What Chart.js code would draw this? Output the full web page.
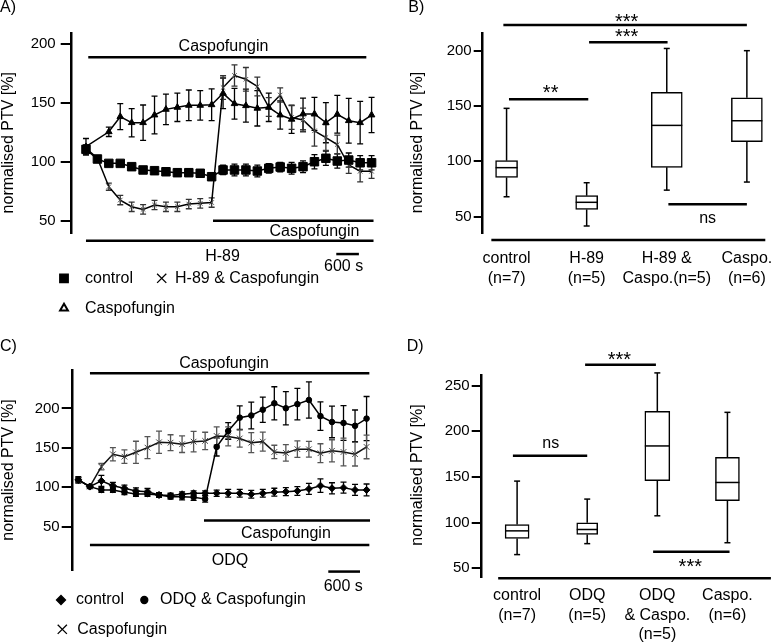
<!DOCTYPE html>
<html lang="en">
<head>
<meta charset="UTF-8">
<title>Normalised PTV - H-89 / ODQ and Caspofungin</title>
<script src="https://cdn.jsdelivr.net/npm/chart.js"></script>
<style>
    body { margin: 0; background: #fff; }
    #wrap { position: relative; width: 771px; height: 643px; }
    canvas { position: absolute; }
</style>
</head>
<body>
<div id="wrap">
    <canvas id="chartA" width="390" height="320" style="left:0;top:0"></canvas>
    <canvas id="chartB" width="381" height="320" style="left:390px;top:0"></canvas>
    <canvas id="chartC" width="390" height="323" style="left:0;top:320px"></canvas>
    <canvas id="chartD" width="381" height="323" style="left:390px;top:320px"></canvas>
</div>
<script>
    const FONT = "'Liberation Sans', Arial, sans-serif";

    // sample number (one point every 300 s)
    const samples = [0, 1, 2, 3, 4, 5, 6, 7, 8, 9, 10, 11, 12, 13, 14, 15, 16, 17, 18, 19, 20, 21, 22, 23, 24, 25];

    // ---- A) H-89 time course ----
    const controlA    = [110.4, 102.2, 98.5, 98.5, 95.7, 92.9, 92.3, 91.4, 90.6, 90.6, 90.1, 87.2, 92.9, 92.9, 92.9, 92.0, 94.3, 95.4, 94.3, 95.7, 99.9, 102.8, 100.5, 101.3, 99.0, 99.0];
    const controlErrA = [4, 2.5, 2.5, 2.5, 2.5, 2.5, 2.5, 2.5, 3, 3, 3, 3, 4, 5, 5, 5, 4, 4, 5, 5, 6, 6, 6, 6, 6, 6];
    const caspoA      = [112.6, null, 125.3, 138.1, 133.0, 133.0, 139.5, 144.3, 146.0, 147.7, 147.7, 148.2, 157.9, 149.1, 147.4, 145.2, 146.0, 139.5, 135.9, 140.4, 140.4, 133.0, 140.1, 134.7, 133.0, 139.5];
    const caspoErrA   = [7, 0, 4, 11, 12, 15, 16, 13, 12, 13, 12.5, 13.5, 13, 13, 14, 15, 12, 12, 12, 13.5, 14, 17, 16, 19, 18, 15];
    const h89CaspoA   = [111.3, 102.8, 78.7, 67.4, 61.7, 59.5, 63.2, 61.7, 61.7, 64.0, 64.6, 65.3, 162.8, 173.0, 169.8, 163.7, 146.3, 156.5, 137.4, 135.3, 126.1, 120.4, 114.5, 97.1, 91.8, 91.8];
    const h89CaspoErrA = [3, 2, 3, 4, 4, 4, 4, 4, 4, 4, 4, 4, 10, 9, 10, 8, 8, 6, 10, 10, 13, 11, 8, 7, 9, 6];
    const yTicksA = [50, 100, 150, 200];

    // ---- B) H-89 box plots ----
    const catsB = [['control', '(n=7)'], ['H-89', '(n=5)'], ['H-89 &', 'Caspo.(n=5)'], ['Caspo.', '(n=6)']];
    const minB = [68, 41.6, 74, 81.3];
    const q1B  = [85.5, 56.6, 94.6, 117.8];
    const medB = [94.3, 63, 132.5, 136.7];
    const q3B  = [100.6, 69, 162.3, 157.5];
    const maxB = [147.9, 80.7, 202, 200];
    const yTicksB = [50, 100, 150, 200];

    // ---- C) ODQ time course ----
    const controlC     = [109.4, 100.9, 108.1, 102.1, 98.8, 95.4, 94.5, 90.3, 89.5, 91.2, 92.5, 92.5, 92.5, 92.5, 92.5, 91.2, 92.5, 93.8, 94.5, 95.4, 98.0, 102.1, 98.8, 99.6, 96.7, 96.7];
    const controlErrC  = [4, 2, 7, 4, 4, 4, 4, 3, 3, 3, 3, 3, 4, 5, 5, 5, 5, 5, 5, 5.5, 7, 8.5, 7, 7, 7, 7.5];
    const odqCaspoC    = [109.4, 100.9, 96.7, 96.7, 93.8, 91.6, 91.6, 90.3, 88.2, 88.2, 87.4, 85.3, 151.2, 171.4, 188.3, 191.1, 198.4, 206.5, 200.2, 205.4, 210.7, 190.2, 182.8, 181.6, 178.0, 187.1];
    const odqCaspoErrC = [3, 2, 3, 3, 3, 3, 3, 3, 3, 4, 4, 4, 11.5, 10.5, 15, 17, 16, 21, 21, 20, 23, 18, 20, 22, 20, 28];
    const caspoC       = [109.4, 100.9, 126.2, 141.9, 138.9, 144.4, 150.3, 157.1, 156.6, 154.6, 157.9, 158.8, 165.1, 164.5, 161.9, 156.6, 157.9, 144.8, 143.6, 148.4, 148.2, 143.2, 146.3, 144.8, 142.0, 151.2];
    const caspoErrC    = [3, 2, 4, 8.5, 8.5, 14, 14, 14, 10, 10.5, 13, 11, 11.5, 12, 11, 12.7, 12, 8.5, 10.5, 10.5, 10, 12, 14, 17.5, 15, 15];
    const yTicksC = [50, 100, 150, 200];

    // ---- D) ODQ box plots ----
    const catsD = [['control', '(n=7)'], ['ODQ', '(n=5)'], ['ODQ', '& Caspo.', '(n=5)'], ['Caspo.', '(n=6)']];
    const minD = [65, 77, 107.5, 78];
    const q1D  = [82.7, 87, 146, 124];
    const medD = [91, 92.5, 184, 144];
    const q3D  = [98, 99.8, 222, 171.5];
    const maxD = [145.5, 125.8, 264, 220.8];
    const yTicksD = [50, 100, 150, 200, 250];

    // box widths in px (style only)
    const boxWidthB = [22, 22, 31, 31];
    const boxWidthD = [24, 21, 25, 24];

    function text(ctx, s, px, py, size, align) {
        ctx.font = size + 'px ' + FONT;
        ctx.textAlign = align || 'center';
        ctx.textBaseline = 'middle';
        // asterisks sit high in the em box, push them down a bit
        if (s[0] === '*') py += size * 0.23;
        ctx.fillText(s, px, py);
    }

    function yAxis(min, max, ticks, width, tickLen, pad) {
        return {
            type: 'linear', min: min, max: max,
            afterBuildTicks: s => { s.ticks = ticks.map(v => ({ value: v })); },
            afterFit: s => { s.width = width; },
            ticks: { color: '#000', font: { family: FONT, size: 15 }, padding: pad },
            grid: { drawOnChartArea: false, drawTicks: true, tickLength: tickLen, color: '#000', lineWidth: 2 },
            border: { display: true, color: '#000', width: 2.5 }
        };
    }

    function lineSet(ys, errs, style) {
        return Object.assign({
            data: samples.map((x, i) => ({ x: x, y: ys[i] })),
            errors: errs,
            borderColor: '#000', borderWidth: 1.5, tension: 0, spanGaps: true,
            pointBackgroundColor: '#000', pointBorderColor: '#000', pointBorderWidth: 1
        }, style);
    }

    // error bars under the points
    const errorBars = {
        id: 'errorBars',
        beforeDatasetsDraw(chart) {
            const ctx = chart.ctx, y = chart.scales.y;
            chart.data.datasets.forEach((ds, i) => {
                if (!ds.errors) return;
                const meta = chart.getDatasetMeta(i);
                ctx.save();
                ctx.strokeStyle = ds.errorColor || '#000';
                ctx.lineWidth = 1.3;
                meta.data.forEach((pt, j) => {
                    const v = ds.data[j].y, e = ds.errors[j];
                    if (v == null || !e) return;
                    const top = y.getPixelForValue(v + e), bot = y.getPixelForValue(v - e);
                    ctx.beginPath();
                    ctx.moveTo(pt.x, top); ctx.lineTo(pt.x, bot);
                    ctx.moveTo(pt.x - 3, top); ctx.lineTo(pt.x + 3, top);
                    ctx.moveTo(pt.x - 3, bot); ctx.lineTo(pt.x + 3, bot);
                    ctx.stroke();
                });
                ctx.restore();
            });
        }
    };

    // whiskers, caps and medians for the box plots
    function whiskers(mins, q1s, meds, q3s, maxs, widths) {
        return {
            id: 'whiskers',
            afterDatasetsDraw(chart) {
                const { ctx, scales: { x, y } } = chart;
                const seg = (x0, y0, x1, y1) => { ctx.beginPath(); ctx.moveTo(x0, y0); ctx.lineTo(x1, y1); ctx.stroke(); };
                ctx.save();
                ctx.strokeStyle = '#000';
                ctx.lineWidth = 1.5;
                meds.forEach((m, i) => {
                    const cx = x.getPixelForValue(i), hw = widths[i] / 2;
                    const pMax = y.getPixelForValue(maxs[i]), pMin = y.getPixelForValue(mins[i]);
                    seg(cx, y.getPixelForValue(q3s[i]), cx, pMax);
                    seg(cx, y.getPixelForValue(q1s[i]), cx, pMin);
                    seg(cx - 3, pMax, cx + 3, pMax);
                    seg(cx - 3, pMin, cx + 3, pMin);
                    seg(cx - hw, y.getPixelForValue(m), cx + hw, y.getPixelForValue(m));
                });
                ctx.restore();
            }
        };
    }

    // panel letter, axis title, treatment bars, brackets, legend, category labels
    function decor(cfg) {
        return {
            id: 'decor',
            afterDraw(chart) {
                const { ctx, scales: { x, y } } = chart;
                ctx.save();
                ctx.fillStyle = '#000';
                ctx.strokeStyle = '#000';
                text(ctx, cfg.tag[0], cfg.tag[1], cfg.tag[2], 16, 'left');

                ctx.save();
                ctx.translate(cfg.yTitle[1], cfg.yTitle[2]);
                ctx.rotate(-Math.PI / 2);
                text(ctx, cfg.yTitle[0], 0, 0, 16);
                ctx.restore();

                (cfg.bars || []).forEach(b => {
                    const py = y.getPixelForValue(b.y);
                    ctx.lineWidth = 2.5;
                    ctx.beginPath();
                    ctx.moveTo(x.getPixelForValue(b.x0), py);
                    ctx.lineTo(x.getPixelForValue(b.x1), py);
                    ctx.stroke();
                    if (b.text) text(ctx, b.text, x.getPixelForValue(b.tx), y.getPixelForValue(b.ty), b.size || 16);
                });

                (cfg.legend || []).forEach(l => {
                    ctx.fillStyle = l.fill || '#000';
                    ctx.strokeStyle = '#000';
                    ctx.lineWidth = l.lw || 1.3;
                    Chart.helpers.drawPoint(ctx, { pointStyle: l.style, radius: l.r, rotation: 0, borderWidth: l.lw || 1.3 }, l.x, l.y);
                    ctx.fillStyle = '#000';
                    text(ctx, l.label, l.lx, l.y, 16, 'left');
                });

                if (cfg.cats) {
                    cfg.cats.labels.forEach((lines, i) => {
                        lines.forEach((s, k) => text(ctx, s, x.getPixelForValue(i), cfg.cats.y + k * cfg.cats.step, 16));
                    });
                }
                ctx.restore();
            }
        };
    }

    const baseOptions = {
        responsive: false, animation: false, events: [],
        plugins: { legend: { display: false }, tooltip: { enabled: false } }
    };

    // ---------- A ----------
    new Chart(document.getElementById('chartA'), {
        type: 'line',
        data: {
            datasets: [
                lineSet(controlA, controlErrA, { pointStyle: 'rect', pointRadius: 6 }),
                lineSet(caspoA, caspoErrA, { pointStyle: 'triangle', pointRadius: 3.8 }),
                lineSet(h89CaspoA, h89CaspoErrA, { pointStyle: 'crossRot', pointRadius: 3.2, pointBorderColor: '#555', errorColor: '#333' })
            ]
        },
        options: Object.assign({}, baseOptions, {
            layout: { padding: { top: 33.3, bottom: 86.7, left: 0, right: 6.6 } },
            scales: {
                x: { type: 'linear', display: false, min: -1.25, max: 26 },
                y: yAxis(39.2, 208.8, yTicksA, 71.7, 11, 5)
            }
        }),
        plugins: [errorBars, decor({
            tag: ['A)', 0, 7.5],
            yTitle: ['normalised PTV [%]', 9, 142.7],
            bars: [
                { x0: 0.2, x1: 24.54, y: 188.4, text: 'Caspofungin', tx: 12.04, ty: 197.4 },
                { x0: 11.12, x1: 25.17, y: 49.9, text: 'Caspofungin', tx: 20.0, ty: 40.5 },
                { x0: 0, x1: 25.17, y: 32.9, text: 'H-89', tx: 11.95, ty: 19.3 },
                { x0: 21.91, x1: 23.89, y: 21.6, text: '600 s', tx: 22.55, ty: 10.8 }
            ],
            legend: [
                { style: 'rect', r: 6, x: 64, y: 278.3, label: 'control', lx: 85 },
                { style: 'crossRot', r: 6.5, x: 161.7, y: 278.3, label: 'H-89 & Caspofungin', lx: 175 },
                { style: 'triangle', r: 4.5, fill: '#fff', lw: 2, x: 64, y: 308.3, label: 'Caspofungin', lx: 85 }
            ]
        })]
    });

    // ---------- B ----------
    new Chart(document.getElementById('chartB'), {
        type: 'bar',
        data: {
            datasets: catsB.map((c, i) => ({
                data: [{ x: i, y: [q1B[i], q3B[i]] }],
                backgroundColor: '#fff', borderColor: '#000', borderWidth: 1.5, borderSkipped: false,
                barThickness: boxWidthB[i], grouped: false
            }))
        },
        options: Object.assign({}, baseOptions, {
            layout: { padding: { top: 33.3, bottom: 86.7, left: 0, right: 4.1 } },
            scales: {
                x: { type: 'linear', display: false, offset: false, min: -0.298, max: 3.25 },
                y: yAxis(35, 215.7, yTicksB, 92.7, 9, 2)
            }
        }),
        plugins: [whiskers(minB, q1B, medB, q3B, maxB, boxWidthB), decor({
            tag: ['B)', 18.3, 7.5],
            yTitle: ['normalised PTV [%]', 27.5, 142.5],
            bars: [
                { x0: -0.19, x1: 3.23, y: 28.95 },
                { x0: -0.04, x1: 3.0, y: 223.2, text: '***', tx: 1.5, ty: 229.3, size: 20 },
                { x0: 1.03, x1: 2.01, y: 207.6, text: '***', tx: 1.5, ty: 215.7, size: 20 },
                { x0: 0.03, x1: 1.02, y: 156.1, text: '**', tx: 0.55, ty: 165.1, size: 20 },
                { x0: 2.02, x1: 3.0, y: 61.2, text: 'ns', tx: 2.51, ty: 48.6 }
            ],
            cats: { labels: catsB, y: 258.3, step: 20 }
        })]
    });

    // ---------- C ----------
    new Chart(document.getElementById('chartC'), {
        type: 'line',
        data: {
            datasets: [
                lineSet(controlC, controlErrC, { pointStyle: 'rectRot', pointRadius: 3.5 }),
                lineSet(odqCaspoC, odqCaspoErrC, { pointStyle: 'circle', pointRadius: 2.8 }),
                lineSet(caspoC, caspoErrC, { pointStyle: 'crossRot', pointRadius: 4, borderColor: '#111', pointBorderColor: '#444', errorColor: '#555' })
            ]
        },
        options: Object.assign({}, baseOptions, {
            layout: { padding: { top: 50, bottom: 73, left: 0, right: 11.9 } },
            scales: {
                x: { type: 'linear', display: false, min: -0.486, max: 26 },
                y: yAxis(-4.8, 248.7, yTicksC, 72.7, 11, 2)
            }
        }),
        plugins: [errorBars, decor({
            tag: ['C)', 0, 26.7],
            yTitle: ['normalised PTV [%]', 9, 150],
            bars: [
                { x0: 1.01, x1: 25.24, y: 244.5, text: 'Caspofungin', tx: 12.64, ty: 257.2 },
                { x0: 10.9, x1: 25.3, y: 57.8, text: 'Caspofungin', tx: 18.0, ty: 41.8 },
                { x0: 1.01, x1: 25.24, y: 27, text: 'ODQ', tx: 13.16, ty: 7.1 },
                { x0: 21.68, x1: 24.43, y: -6.8, text: '600 s', tx: 22.98, ty: -25.8 }
            ],
            legend: [
                { style: 'rectRot', r: 4.5, x: 61, y: 280, label: 'control', lx: 76 },
                { style: 'circle', r: 3.5, x: 144.3, y: 280, label: 'ODQ & Caspofungin', lx: 160 },
                { style: 'crossRot', r: 6.5, x: 62.3, y: 309.3, label: 'Caspofungin', lx: 77.3 }
            ]
        })]
    });

    // ---------- D ----------
    new Chart(document.getElementById('chartD'), {
        type: 'bar',
        data: {
            datasets: catsD.map((c, i) => ({
                data: [{ x: i, y: [q1D[i], q3D[i]] }],
                backgroundColor: '#fff', borderColor: '#000', borderWidth: 1.5, borderSkipped: false,
                barThickness: boxWidthD[i], grouped: false
            }))
        },
        options: Object.assign({}, baseOptions, {
            layout: { padding: { top: 55, bottom: 66.3, left: 0, right: 0.1 } },
            scales: {
                x: { type: 'linear', display: false, offset: false, min: -0.505, max: 3.62 },
                y: yAxis(40.8, 261.7, yTicksD, 91.7, 10, 2)
            }
        }),
        plugins: [whiskers(minD, q1D, medD, q3D, maxD, boxWidthD), decor({
            tag: ['D)', 16.7, 26.7],
            yTitle: ['normalised PTV [%]', 27.5, 155],
            bars: [
                { x0: -0.27, x1: 3.62, y: 39.05 },
                { x0: 0.97, x1: 1.98, y: 273, text: '***', tx: 1.46, ty: 282.5, size: 20 },
                { x0: -0.06, x1: 1.0, y: 173.3, text: 'ns', tx: 0.48, ty: 186.9 },
                { x0: 1.94, x1: 3.03, y: 68.2, text: '***', tx: 2.47, ty: 56.1, size: 20 }
            ],
            cats: { labels: catsD, y: 276, step: 19.5 }
        })]
    });
</script>
</body>
</html>
